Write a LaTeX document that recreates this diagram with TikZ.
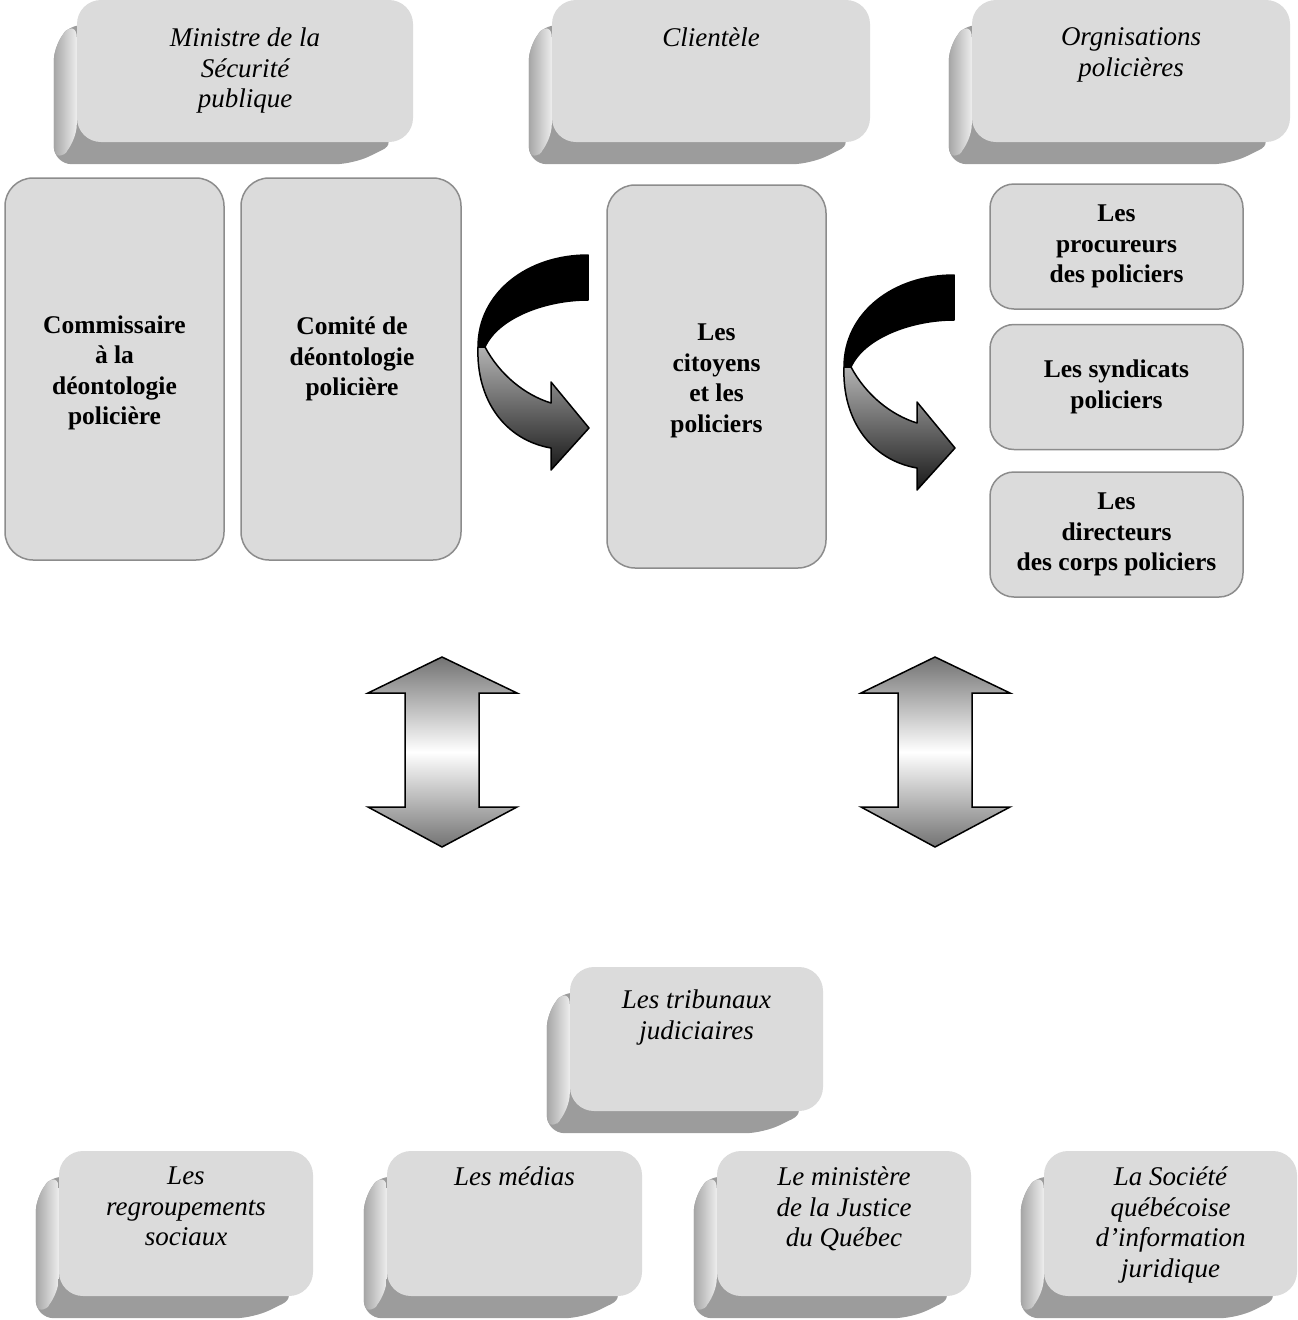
\documentclass[tikz,border=0pt]{standalone}
\usepackage{fontspec}
\setmainfont{Liberation Serif}
\usetikzlibrary{calc,positioning}
\pgfdeclarelayer{background}
\pgfsetlayers{background,main}

\begin{document}
\begin{tikzpicture}[x=1pt,y=-1pt]

	\useasboundingbox (0,0) rectangle (1298,1320);
	
	\tikzset{face/.style={fill=black!14,rounded corners=24pt,inner sep=0pt},
		flat/.style={fill=black!14,draw=black!45,line width=1.5pt,rounded corners=28pt,bld},
		itl/.style={align=center,inner sep=0pt,font=\fontsize{27}{30.5}\selectfont\itshape},
		bld/.style={align=center,inner sep=0pt,font=\fontsize{25.5}{30.5}\selectfont\bfseries}}
	
	% top row
	\node[face,minimum width=336pt,minimum height=142pt] (ministre) at (245,71) {};
	\node[face,minimum width=318pt,minimum height=142pt] (clientele) at (711,71) {};
	\node[face,minimum width=318pt,minimum height=142pt] (orgpol) at (1131,71) {};
	\node[itl,below=28pt of ministre.north] (ministre-t) {Ministre de la\\Sécurité\\publique};
	\node[itl,below=28pt of clientele.north] (clientele-t) {Clientèle};
	\node[itl,below=28pt of orgpol.north] (orgpol-t) {Orgnisations\\policières};
	
	% middle row
	\node[flat,minimum width=219pt,minimum height=382pt] (commissaire) at (114.5,369) {};
	\node[bld] (commissaire-t) at (114.5,373) {Commissaire\\à la\\déontologie\\policière};
	\node[flat,minimum width=220pt,minimum height=382pt] (comite) at (351,369) {};
	\node[bld] (comite-t) at (352,359) {Comité de\\déontologie\\policière};
	\node[flat,minimum width=219pt,minimum height=383pt] (citoyens) at (716.5,376.5) {};
	\node[bld] (citoyens-t) at (716.5,381) {Les\\citoyens\\et les\\policiers};
	\node[flat,minimum width=253pt,minimum height=125pt,rounded corners=24pt] (procureurs) at (1116.5,246.5) {Les\\procureurs\\des policiers};
	\node[flat,minimum width=253pt,minimum height=125pt,rounded corners=24pt,below=14pt of procureurs] (syndicats) {Les syndicats\\policiers};
	\node[flat,minimum width=253pt,minimum height=125pt,rounded corners=24pt,below=21pt of syndicats] (directeurs) {Les\\directeurs\\des corps policiers};
	
	% bottom rows
	\node[face,minimum width=253pt,minimum height=144pt] (tribunaux) at (696.5,1039) {};
	\node[itl,below=23pt of tribunaux.north] (tribunaux-t) {Les tribunaux\\judiciaires};
	\node[face,minimum width=254pt,minimum height=145pt] (regroup) at (186,1223.5) {};
	\node[face,minimum width=255pt,minimum height=145pt] (medias) at (514.5,1223.5) {};
	\node[face,minimum width=254pt,minimum height=145pt] (justice) at (844,1223.5) {};
	\node[face,minimum width=253pt,minimum height=145pt] (soquij) at (1170.5,1223.5) {};
	\node[itl,below=16pt of regroup.north] (regroup-t) {Les\\regroupements\\sociaux};
	\node[itl,below=16pt of medias.north] (medias-t) {Les médias};
	\node[itl,below=16pt of justice.north] (justice-t) {Le ministère\\de la Justice\\du Québec};
	\node[itl,below=16pt of soquij.north] (soquij-t) {La Société\\québécoise\\d’information\\juridique};
	
	% relief under the faces
	\begin{pgfonlayer}{background}
		\foreach \bx in {ministre,clientele,orgpol,tribunaux,regroup,medias,justice,soquij}{
			\fill[black!39,rounded corners=18pt] ($(\bx.north west)+(0,20)$) -- ($(\bx.north west)+(-23,43)$) -- ($(\bx.south west)+(-23,22)$) -- ($(\bx.south east)+(-60,22)$) -- ($(\bx.south east)+(-15,0)$) -- cycle;
			\shade[left color=black!35,right color=black!7,rounded corners=18pt] ($(\bx.north west)+(0,20)$) -- ($(\bx.north west)+(-23,43)$) -- ($(\bx.south west)+(-23,22)$) -- (\bx.south west) -- cycle;
		}
	\end{pgfonlayer}
	
	% curved arrows
	\foreach \dx/\dy in {0/0,366/20}{
		\begin{scope}[shift={(\dx,\dy)},line width=1.5pt,line join=round]
			\filldraw[fill=black] (588,255) .. controls (527,255) and (478,293) .. (478,347) -- (485,347) .. controls (498,318) and (545,300) .. (588,300) -- cycle;
			\draw[top color=black!30,bottom color=black!90] (478,347) .. controls (476,400) and (505,440) .. (551,448) -- (551,470) -- (589,428) -- (551,382) -- (551,403) .. controls (525,395) and (500,375) .. (485,347) -- cycle;
		\end{scope}}
	
	% double arrows
	\foreach \dx in {0,493}{
		\draw[shift={(\dx,0)},line width=1.5pt,top color=black!55,bottom color=black!55,middle color=white] (442,657) -- (517,693) -- (479,693) -- (479,807) -- (517,807) -- (442,847) -- (368,807) -- (405,807) -- (405,693) -- (368,693) -- cycle;
	}
\end{tikzpicture}
\end{document}
